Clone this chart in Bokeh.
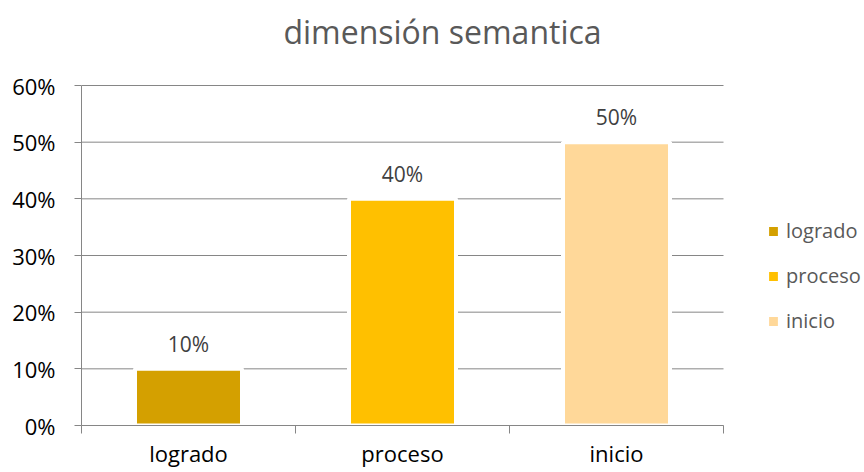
from bokeh.plotting import figure
from bokeh.models import (ColumnDataSource, Range1d, LinearAxis, FixedTicker,
                          NumeralTickFormatter, LabelSet, Label, Legend, LegendItem)
from bokeh.core.properties import value
from bokeh.embed import file_html
from bokeh.resources import INLINE

# ---- data ----
title_text = "dimensión semantica"
categories = ["logrado", "proceso", "inicio"]
values = [0.10, 0.40, 0.50]
bar_colors = ["#D4A000", "#FFC000", "#FFD899"]
y_ticks = [0.0, 0.1, 0.2, 0.3, 0.4, 0.5, 0.6]

n = len(categories)
y_max = y_ticks[-1]
# category slots: category i occupies [i, i+1] on a numeric axis
x_pos = [i + 0.5 for i in range(n)]
edges = list(range(n + 1))
value_labels = [f"{round(v * 100)}%" for v in values]

FONT = "Open Sans"
GRAY = "#868686"

# ---- layout (pixels) ----
W, H = 864, 472
LEFT, BOTTOM = 81, 47
AXIS_RIGHT, AXIS_TOP = 723, 85     # where the category axis / value axis end
TITLE_CX, TITLE_BASE = 442, 31     # title centre / baseline anchor
frame_bottom = H - BOTTOM
# the frame fills the figure to the right and top edges so that the title and
# the legend can be drawn inside it; axes are bounded to the data area
x_end = n * (W - LEFT) / (AXIS_RIGHT - LEFT)
y_end = y_max * frame_bottom / (frame_bottom - AXIS_TOP)
px_x = (AXIS_RIGHT - LEFT) / n
px_y = (frame_bottom - AXIS_TOP) / y_max

source = ColumnDataSource(dict(x=x_pos, cat=categories, val=values, color=bar_colors, lab=value_labels))

p = figure(width=W, height=H, title=None,
           x_range=Range1d(0, x_end), y_range=Range1d(0, y_end),
           x_axis_location=None, output_backend="svg", toolbar_location=None,
           min_border_left=LEFT, min_border_right=0, min_border_top=0, min_border_bottom=BOTTOM)
p.outline_line_color = None
p.background_fill_color = "white"
p.border_fill_color = "white"

# title
title = Label(x=(TITLE_CX - LEFT) / px_x, y=(frame_bottom - TITLE_BASE) / px_y,
              text=title_text, text_align="center", text_baseline="alphabetic",
              text_font=FONT, text_font_size="32px", text_color="#595959")
p.add_layout(title)

# gridlines limited to the category area
p.xgrid.visible = False
p.ygrid.visible = False
grid = p.segment(x0=[0] * len(y_ticks), x1=[n] * len(y_ticks), y0=y_ticks, y1=y_ticks,
                 line_color=GRAY, line_width=1, level="underlay")

# bars
r = p.vbar(x="x", top="val", width=0.5, source=source, fill_color="color",
           line_color="white", line_width=4)

# data labels
labels = LabelSet(x="x", y="val", text="lab", source=source, y_offset=25,
                  text_align="center", text_baseline="middle",
                  text_font=value(FONT), text_font_size="21px", text_color="#404040")
p.add_layout(labels)

# y axis
yax = p.yaxis[0]
yax.bounds = (0, y_max)
yax.ticker = FixedTicker(ticks=y_ticks)
yax.formatter = NumeralTickFormatter(format="0%")
yax.axis_line_color = GRAY
yax.major_tick_line_color = GRAY
yax.major_tick_out = 7
yax.major_tick_in = 0
yax.minor_tick_line_color = None
yax.major_label_text_font = FONT
yax.major_label_text_font_size = "22px"
yax.major_label_text_color = "#000000"
yax.major_label_standoff = 19

# x axis: labels at category centres, tick marks at category boundaries
xax = LinearAxis(ticker=FixedTicker(ticks=x_pos, minor_ticks=edges), bounds=(0, n),
                 major_label_overrides={x: c for x, c in zip(x_pos, categories)},
                 axis_line_color=GRAY, major_tick_line_color=None,
                 minor_tick_line_color=GRAY, minor_tick_out=8, minor_tick_in=0,
                 major_tick_out=0, major_tick_in=0, major_label_standoff=4,
                 major_label_text_font=FONT, major_label_text_font_size="22px",
                 major_label_text_color="#000000")
p.add_layout(xax, "below")

# legend
items = [LegendItem(label=c, renderers=[r], index=i) for i, c in enumerate(categories)]
legend = Legend(items=items, location=(684, 91), orientation="vertical",
                glyph_width=16, glyph_height=16, label_height=26, spacing=18,
                label_standoff=5, padding=0, margin=0,
                border_line_color=None, background_fill_alpha=0,
                label_text_font=FONT, label_text_font_size="20px",
                label_text_color="#595959")
p.add_layout(legend)

open("out.html", "w").write(file_html(p, INLINE))
